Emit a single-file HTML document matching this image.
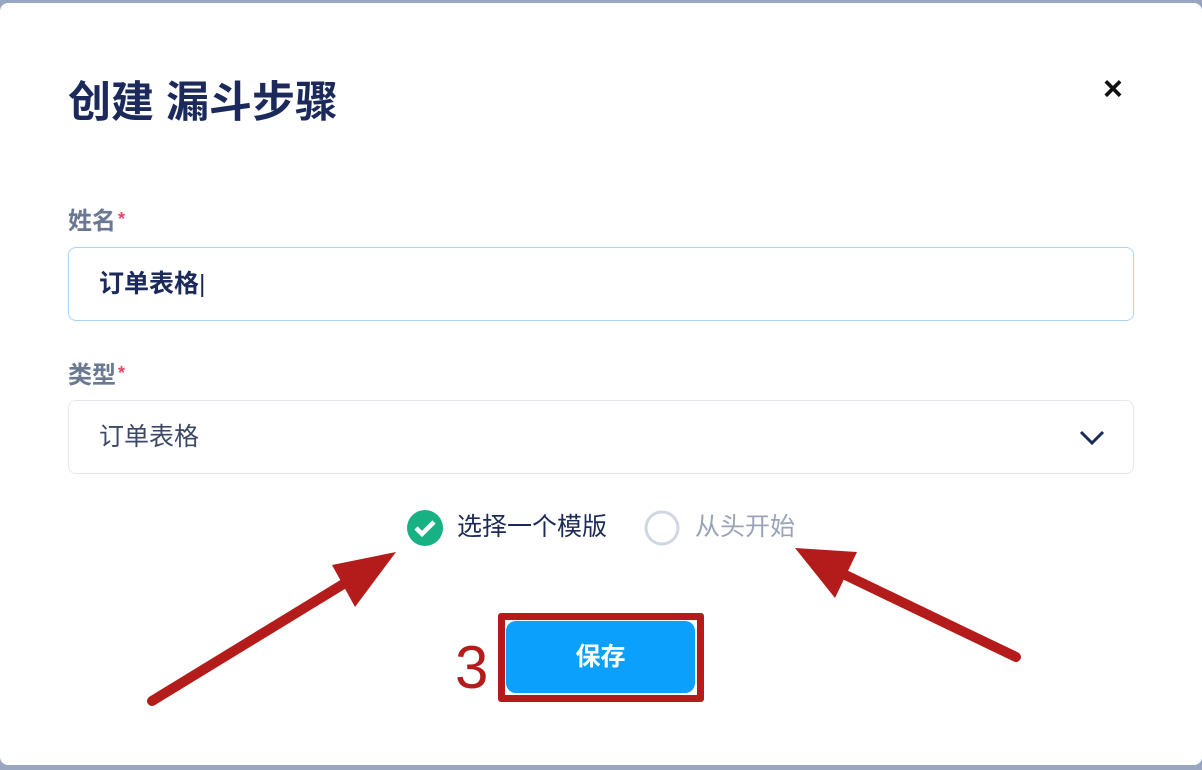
<!DOCTYPE html>
<html><head><meta charset="utf-8"><style>
*{margin:0;padding:0;box-sizing:border-box}
body{width:1202px;height:770px;background:#9aa6bf;position:relative;overflow:hidden;font-family:"Liberation Sans","Noto Sans CJK SC",sans-serif}
.card{position:absolute;left:0;top:3px;width:1202px;height:762px;background:#fff;border-radius:8px}
.t{position:absolute;white-space:nowrap;line-height:1}
.inp{position:absolute;left:68px;width:1066px;border-radius:8px;background:#fff}
.ast{color:#e5456b;font-size:18px;position:relative;top:-4px;margin-left:2px}
</style></head><body>
<div class="card"></div>
<div class="t" style="left:68px;top:82px;font-size:43px;font-weight:bold;color:#1b2a5a">创建 漏斗步骤</div>
<div class="t" style="left:1103px;top:72px;font-size:34px;font-weight:bold;color:#111">×</div>
<div class="t" style="left:68px;top:210px;font-size:24px;font-weight:bold;color:#6b7892">姓名<span class="ast">*</span></div>
<div class="inp" style="top:247px;height:74px;border:1px solid #a9d4f3"></div>
<div class="t" style="left:99px;top:272px;font-size:25px;font-weight:bold;color:#1b2a5a">订单表格<span style="font-weight:normal">|</span></div>
<div class="t" style="left:68px;top:364px;font-size:24px;font-weight:bold;color:#6b7892">类型<span class="ast">*</span></div>
<div class="inp" style="top:400px;height:74px;border:1px solid #e3e7ee"></div>
<div class="t" style="left:99px;top:425px;font-size:25px;color:#3c4866">订单表格</div>
<svg style="position:absolute;left:1078px;top:428px" width="28" height="20"><polyline points="3,4 14,15 25,4" fill="none" stroke="#1b2a5a" stroke-width="3"/></svg>
<svg style="position:absolute;left:406px;top:509px" width="38" height="38"><circle cx="19" cy="19" r="18" fill="#17b184"/><polyline points="10,19 16,25 28,13" fill="none" stroke="#fff" stroke-width="4.5"/></svg>
<div class="t" style="left:457px;top:515px;font-size:25px;color:#1b2a5a">选择一个模版</div>
<svg style="position:absolute;left:643px;top:509px" width="38" height="38"><circle cx="19" cy="19" r="16" fill="none" stroke="#cfd7e3" stroke-width="3"/></svg>
<div class="t" style="left:695px;top:515px;font-size:25px;color:#9aa3b8">从头开始</div>
<div style="position:absolute;left:498px;top:613px;width:206px;height:89px;border:7px solid #b41c1c;border-radius:3px"></div>
<div style="position:absolute;left:506px;top:621px;width:189px;height:72px;background:#0aa0fb;border-radius:10px"></div>
<div class="t" style="left:506px;top:645px;width:189px;text-align:center;font-size:25px;font-weight:bold;color:#fff">保存</div>
<div class="t" style="left:455px;top:633px;font-size:60px;color:#b41c1c;line-height:70px">3</div>
<svg style="position:absolute;left:0;top:0" width="1202" height="770">
<line x1="152" y1="701" x2="350" y2="580" stroke="#b41c1c" stroke-width="10" stroke-linecap="round"/>
<polygon points="332,565 396,552 355,607" fill="#b41c1c"/>
<line x1="1016" y1="657" x2="835" y2="570" stroke="#b41c1c" stroke-width="10" stroke-linecap="round"/>
<polygon points="795,548 857,552 835,598" fill="#b41c1c"/>
</svg>
</body></html>
